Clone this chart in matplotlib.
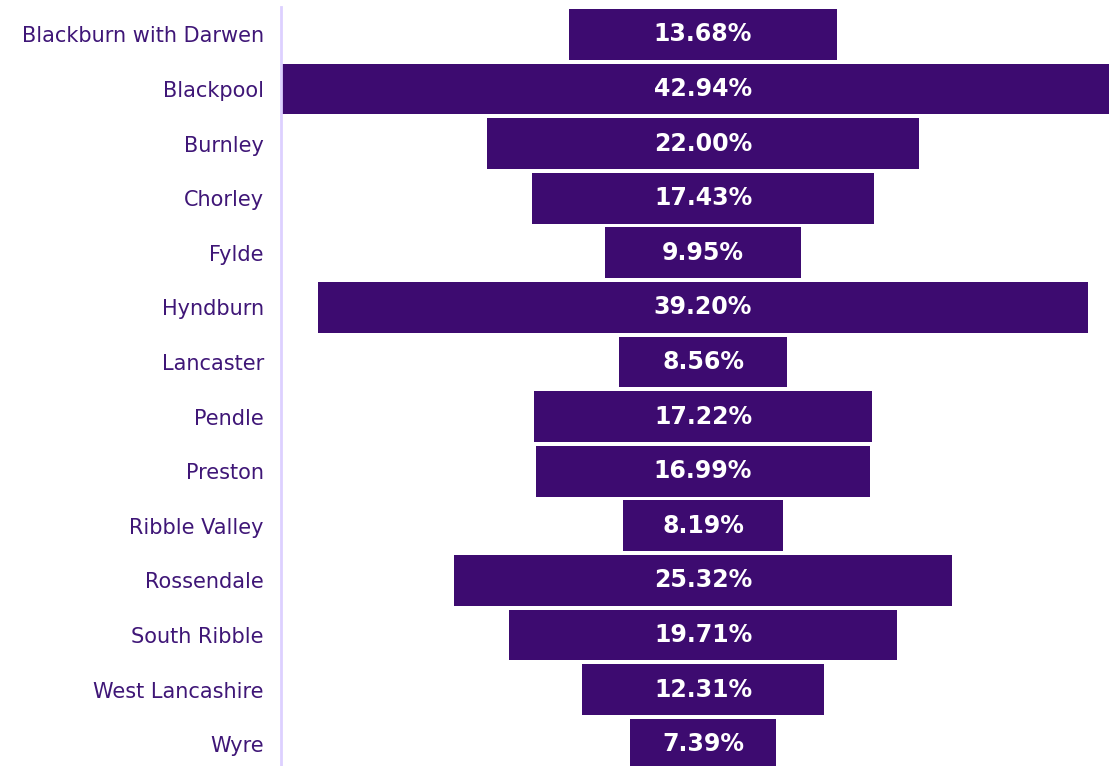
import matplotlib
matplotlib.use("Agg")
import matplotlib.pyplot as plt

districts = ["Blackburn with Darwen", "Blackpool", "Burnley", "Chorley", "Fylde",
             "Hyndburn", "Lancaster", "Pendle", "Preston", "Ribble Valley",
             "Rossendale", "South Ribble", "West Lancashire", "Wyre"]
values = [13.68, 42.94, 22.00, 17.43, 9.95, 39.20, 8.56, 17.22, 16.99, 8.19,
          25.32, 19.71, 12.31, 7.39]

bar_color = "#3d0b70"
label_color = "#3f1677"
axis_color = "#ddd0ff"

fig = plt.figure(figsize=(11.09, 7.66), dpi=100)
# axes runs a bit past the right edge, like the original (Blackpool is cut off)
ax = fig.add_axes([281.3 / 1109, 0.0, (1124.7 - 281.3) / 1109, 1 - 7 / 766])

ypos = list(range(len(districts)))
lefts = [-v / 2 for v in values]
ax.barh(ypos, values, left=lefts, height=0.93, color=bar_color)

for y, v in zip(ypos, values):
    ax.text(0, y, f"{v:.2f}%", ha="center", va="center", color="white",
            fontsize=17, fontweight="bold", family="DejaVu Sans")

ax.set_xlim(-max(values) / 2, max(values) / 2)
ax.set_ylim(13.40, -0.5)
ax.set_yticks(ypos)
ax.set_yticklabels(districts, fontsize=15, color=label_color)
ax.tick_params(axis="y", length=0, pad=12.5)
ax.set_xticks([])
for side in ["top", "right", "bottom"]:
    ax.spines[side].set_visible(False)
ax.spines["left"].set_color(axis_color)
ax.spines["left"].set_linewidth(2)

fig.savefig("out.png", dpi=100)
